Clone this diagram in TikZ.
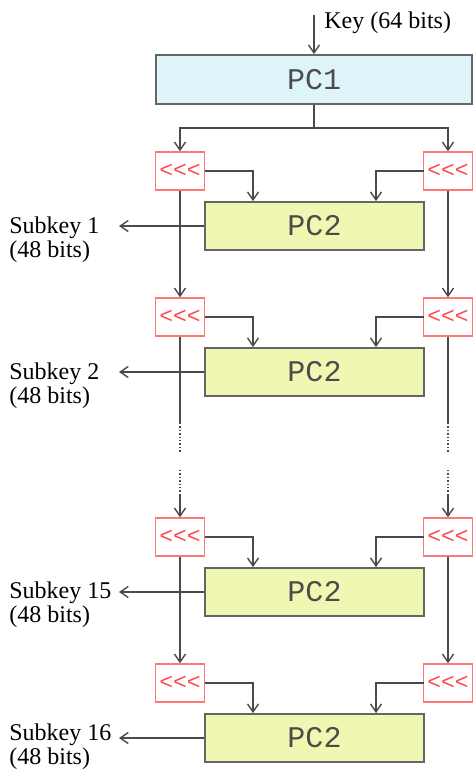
\documentclass[tikz,border=0pt]{standalone}
\usepackage{fontspec}
\setmainfont{Liberation Serif}
\setmonofont{Liberation Mono}
\usetikzlibrary{arrows.meta}
\definecolor{pcblue}{HTML}{DDF5F9}
\definecolor{pcyellow}{HTML}{F0F7B2}
\definecolor{shiftred}{HTML}{FF4B4B}
\definecolor{wire}{HTML}{4A4A4A}

\begin{document}
\begin{tikzpicture}[x=0.5pt, y=-0.5pt, >={Straight Barb[length=4pt,width=5.5pt]},
  font=\fontsize{12}{12}\selectfont,
  perm/.style={draw=wire!85, line width=.9pt, minimum width=219*0.5pt,
    minimum height=48*0.5pt, inner sep=0pt,
    font=\fontsize{15}{15}\selectfont\ttfamily, text=black!70},
  rot/.style={draw=shiftred!75, fill=white, line width=.7pt, minimum width=49*0.5pt,
    minimum height=38*0.5pt, inner sep=0pt,
    font=\fontsize{11.5}{11.5}\selectfont\ttfamily, text=shiftred},
  wireline/.style={draw=wire, line width=.7pt},
  sublbl/.style={anchor=base west, align=left, inner sep=0pt}]
  \useasboundingbox (0,0) rectangle (473,771);

  % key input and PC1
  \node[perm, fill=pcblue, minimum width=316*0.5pt, minimum height=49*0.5pt]
    (pc1) at (314,79.5) {PC1};
  \coordinate (keyin) at (314,15);
  \node[anchor=west, inner sep=0pt] (keylbl) at (324,23) {Key (64 bits)};
  \draw[wireline, ->] (keyin) -- (pc1.north);
  \coordinate (split) at (314,128);

  % rounds
  \foreach \r/\y in {1/171, 2/317, 3/537, 4/683} {
    \node[rot] (l\r) at (180,\y) {<<<};
    \node[rot] (r\r) at (448,\y) {<<<};
    \node[perm, fill=pcyellow] (k\r) at (314.5,\y+55) {PC2};
    \draw[wireline, ->] (l\r.east) -| ([xshift=-30.75pt]k\r.north);
    \draw[wireline, ->] (r\r.east) ++(-49,0) -| ([xshift=30.75pt]k\r.north);
  }
  \draw[wireline] (pc1.south) -- (split);
  \draw[wireline, ->] (split) -| (l1.north);
  \draw[wireline, ->] (split) -| (r1.north);
  \draw[wireline, ->] (l1.south) -- (l2.north);
  \draw[wireline, ->] (r1.south) -- (r2.north);
  \draw[wireline, ->] (l3.south) -- (l4.north);
  \draw[wireline, ->] (r3.south) -- (r4.north);

  % skipped rounds
  \foreach \s/\x in {l/180, r/448} {
    \coordinate (\s dA) at (\x,423);
    \coordinate (\s dB) at (\x,452);
    \coordinate (\s dC) at (\x,470);
    \coordinate (\s dD) at (\x,495);
    \draw[wireline] (\s2.south) -- (\s dA);
    \draw[wireline, densely dotted] (\s dA) -- (\s dB);
    \draw[wireline, densely dotted] (\s dC) -- (\s dD);
    \draw[wireline, ->] (\s dD) -- (\s3.north);
  }

  % subkeys
  \foreach \r in {1,...,4} {
    \coordinate (sk\r) at (119,0 |- k\r.west);
    \draw[wireline, ->] (k\r.west) -- (sk\r);
  }
  \node[sublbl] (sub1) at (9,257) {Subkey 1\\(48 bits)};
  \node[sublbl] (sub2) at (9,403) {Subkey 2\\(48 bits)};
  \node[sublbl] (sub3) at (9,622) {Subkey 15\\(48 bits)};
  \node[sublbl] (sub4) at (9,764) {Subkey 16\\(48 bits)};
\end{tikzpicture}
\end{document}
